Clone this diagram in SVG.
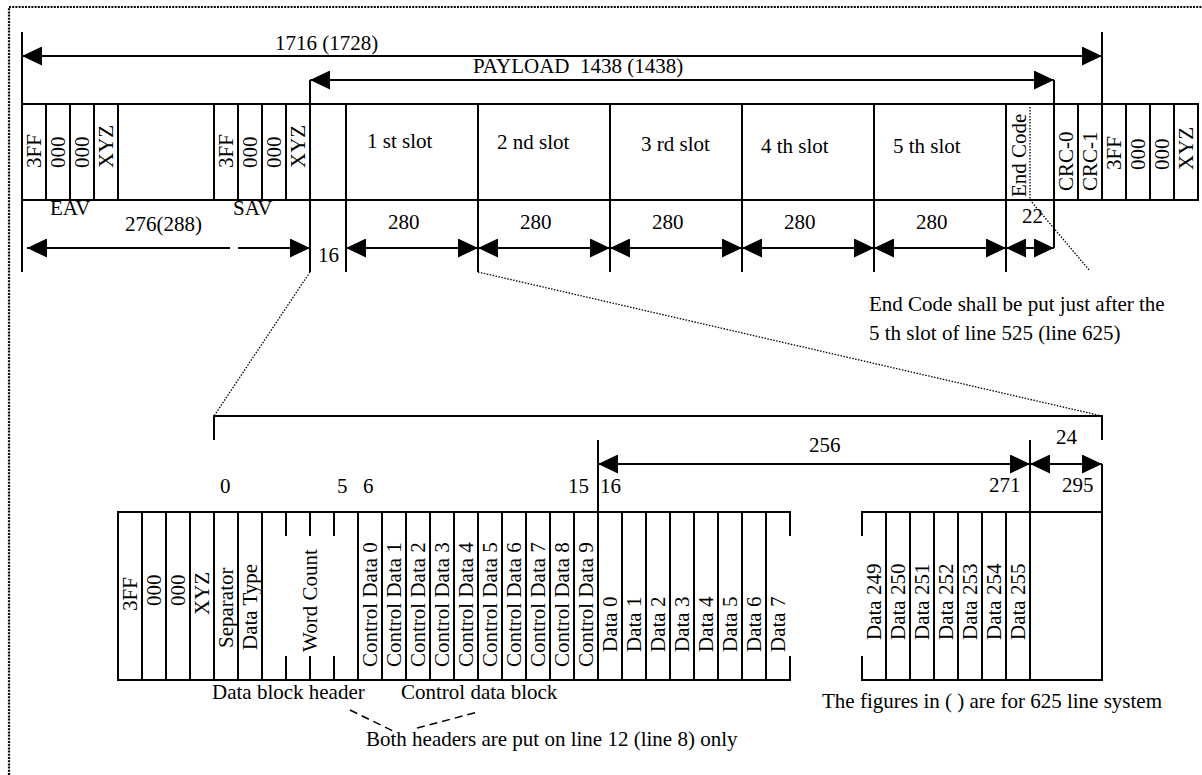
<svg xmlns="http://www.w3.org/2000/svg" width="1202" height="775" viewBox="0 0 1202 775">
<style>
.ln{stroke:#000;stroke-width:2;fill:none}
.t{font-family:"Liberation Serif","Times New Roman",serif;font-size:21px;fill:#000}
.dot{stroke:#000;stroke-width:1.3;stroke-dasharray:1.5 1.5;fill:none}
.frame{stroke:#000;stroke-width:2.2;stroke-dasharray:2 1.2;fill:none}
.dsh{stroke:#000;stroke-width:1.5;stroke-dasharray:8 5;fill:none}
.dim{stroke:#000;stroke-width:2;fill:none;marker-start:url(#ah);marker-end:url(#ah)}
</style>
<defs>
<marker id="ah" viewBox="0 0 20 19" refX="20" refY="9.5" markerWidth="20" markerHeight="19" markerUnits="userSpaceOnUse" orient="auto-start-reverse"><path d="M0,0 L20,9.5 L0,19 z" fill="#000"/></marker>
</defs>
<rect width="1202" height="775" fill="#fff"/>
<path class="frame" d="M9,775 V7 H1202"/>

<!-- top table -->
<g id="top-table">
<g id="eav-3ff"><rect class="ln" x="22" y="104" width="24" height="96"/><text class="t" transform="translate(41,168) rotate(-90)">3FF</text></g>
<g id="eav-000a"><rect class="ln" x="46" y="104" width="24" height="96"/><text class="t" transform="translate(65,168) rotate(-90)">000</text></g>
<g id="eav-000b"><rect class="ln" x="70" y="104" width="24" height="96"/><text class="t" transform="translate(89,168) rotate(-90)">000</text></g>
<g id="eav-xyz"><rect class="ln" x="94" y="104" width="24" height="96"/><text class="t" transform="translate(113,168) rotate(-90)">XYZ</text></g>
<g id="hblank"><rect class="ln" x="118" y="104" width="96" height="96"/></g>
<g id="sav-3ff"><rect class="ln" x="214" y="104" width="24" height="96"/><text class="t" transform="translate(233,168) rotate(-90)">3FF</text></g>
<g id="sav-000a"><rect class="ln" x="238" y="104" width="24" height="96"/><text class="t" transform="translate(257,168) rotate(-90)">000</text></g>
<g id="sav-000b"><rect class="ln" x="262" y="104" width="24" height="96"/><text class="t" transform="translate(281,168) rotate(-90)">000</text></g>
<g id="sav-xyz"><rect class="ln" x="286" y="104" width="24" height="96"/><text class="t" transform="translate(305,168) rotate(-90)">XYZ</text></g>
<g id="hdr16"><rect class="ln" x="310" y="104" width="36" height="96"/></g>
<g id="slot1"><rect class="ln" x="346" y="104" width="132" height="96"/><text class="t" x="367" y="148">1 st slot</text></g>
<g id="slot2"><rect class="ln" x="478" y="104" width="132" height="96"/><text class="t" x="497" y="149">2 nd slot</text></g>
<g id="slot3"><rect class="ln" x="610" y="104" width="132" height="96"/><text class="t" x="641" y="151">3 rd slot</text></g>
<g id="slot4"><rect class="ln" x="742" y="104" width="132" height="96"/><text class="t" x="761" y="153">4 th slot</text></g>
<g id="slot5"><rect class="ln" x="874" y="104" width="132" height="96"/><text class="t" x="893" y="153">5 th slot</text></g>
<g id="endcode"><rect class="ln" x="1006" y="104" width="48" height="96"/><line class="dot" x1="1030" y1="107" x2="1030" y2="200"/><text class="t" transform="translate(1026,197) rotate(-90)">End Code</text></g>
<g id="crc0"><rect class="ln" x="1054" y="104" width="24" height="96"/><text class="t" transform="translate(1073,191) rotate(-90)">CRC-0</text></g>
<g id="crc1"><rect class="ln" x="1078" y="104" width="24" height="96"/><text class="t" transform="translate(1097,191) rotate(-90)">CRC-1</text></g>
<g id="eav2-3ff"><rect class="ln" x="1102" y="104" width="24" height="96"/><text class="t" transform="translate(1121,170) rotate(-90)">3FF</text></g>
<g id="eav2-000a"><rect class="ln" x="1126" y="104" width="24" height="96"/><text class="t" transform="translate(1145,170) rotate(-90)">000</text></g>
<g id="eav2-000b"><rect class="ln" x="1150" y="104" width="24" height="96"/><text class="t" transform="translate(1169,170) rotate(-90)">000</text></g>
<g id="eav2-xyz"><rect class="ln" x="1174" y="104" width="24" height="96"/><text class="t" transform="translate(1193,170) rotate(-90)">XYZ</text></g>
</g>

<!-- top extension lines -->
<g id="top-ext">
<path class="ln" d="M22,32 V272 M1102,32 V104 M310,80 V272 M346,200 V272 M478,200 V272 M610,200 V272 M742,200 V272 M874,200 V272 M1006,200 V272 M1054,80 V248"/>
</g>

<!-- top labels -->
<g id="top-labels">
<text class="t" x="275" y="50">1716 (1728)</text>
<text class="t" x="473" y="73" xml:space="preserve">PAYLOAD  1438 (1438)</text>
<text class="t" x="50" y="215">EAV</text>
<text class="t" x="233" y="215">SAV</text>
<text class="t" x="125" y="231">276(288)</text>
<text class="t" x="318" y="262">16</text>
<text class="t" x="388" y="229">280</text>
<text class="t" x="520" y="229">280</text>
<text class="t" x="652" y="229">280</text>
<text class="t" x="784" y="229">280</text>
<text class="t" x="916" y="229">280</text>
<text class="t" x="1022" y="223">22</text>
<text class="t" x="869" y="311">End Code shall be put just after the</text>
<text class="t" x="869" y="340">5 th slot of line 525 (line 625)</text>
</g>

<!-- lower table -->
<g id="lower-table">
<g id="l-3ff"><rect class="ln" x="118" y="512" width="24" height="168"/><text class="t" transform="translate(137,611) rotate(-90)">3FF</text></g>
<g id="l-000a"><rect class="ln" x="142" y="512" width="24" height="168"/><text class="t" transform="translate(161,606) rotate(-90)">000</text></g>
<g id="l-000b"><rect class="ln" x="166" y="512" width="24" height="168"/><text class="t" transform="translate(185,606) rotate(-90)">000</text></g>
<g id="l-xyz"><rect class="ln" x="190" y="512" width="24" height="168"/><text class="t" transform="translate(209,615) rotate(-90)">XYZ</text></g>
<g id="l-sep"><rect class="ln" x="214" y="512" width="24" height="168"/><text class="t" transform="translate(233,648) rotate(-90)">Separator</text></g>
<g id="l-type"><rect class="ln" x="238" y="512" width="24" height="168"/><text class="t" transform="translate(257,650) rotate(-90)">Data Type</text></g>
<g id="l-wc"><rect class="ln" x="262" y="512" width="96" height="168"/><path class="ln" d="M286,512 V536 M310,512 V536 M334,512 V536 M286,656 V680 M310,656 V680 M334,656 V680"/><text class="t" transform="translate(317,652) rotate(-90)">Word Count</text></g>
<g id="l-cd0"><rect class="ln" x="358" y="512" width="24" height="168"/><text class="t" transform="translate(377,667) rotate(-90)">Control Data 0</text></g>
<g id="l-cd1"><rect class="ln" x="382" y="512" width="24" height="168"/><text class="t" transform="translate(401,667) rotate(-90)">Control Data 1</text></g>
<g id="l-cd2"><rect class="ln" x="406" y="512" width="24" height="168"/><text class="t" transform="translate(425,667) rotate(-90)">Control Data 2</text></g>
<g id="l-cd3"><rect class="ln" x="430" y="512" width="24" height="168"/><text class="t" transform="translate(449,667) rotate(-90)">Control Data 3</text></g>
<g id="l-cd4"><rect class="ln" x="454" y="512" width="24" height="168"/><text class="t" transform="translate(473,667) rotate(-90)">Control Data 4</text></g>
<g id="l-cd5"><rect class="ln" x="478" y="512" width="24" height="168"/><text class="t" transform="translate(497,667) rotate(-90)">Control Data 5</text></g>
<g id="l-cd6"><rect class="ln" x="502" y="512" width="24" height="168"/><text class="t" transform="translate(521,667) rotate(-90)">Control Data 6</text></g>
<g id="l-cd7"><rect class="ln" x="526" y="512" width="24" height="168"/><text class="t" transform="translate(545,667) rotate(-90)">Control Data 7</text></g>
<g id="l-cd8"><rect class="ln" x="550" y="512" width="24" height="168"/><text class="t" transform="translate(569,667) rotate(-90)">Control Data 8</text></g>
<g id="l-cd9"><rect class="ln" x="574" y="512" width="24" height="168"/><text class="t" transform="translate(593,667) rotate(-90)">Control Data 9</text></g>
<g id="l-d0"><rect class="ln" x="598" y="512" width="24" height="168"/><text class="t" transform="translate(617,652) rotate(-90)">Data 0</text></g>
<g id="l-d1"><rect class="ln" x="622" y="512" width="24" height="168"/><text class="t" transform="translate(641,652) rotate(-90)">Data 1</text></g>
<g id="l-d2"><rect class="ln" x="646" y="512" width="24" height="168"/><text class="t" transform="translate(665,652) rotate(-90)">Data 2</text></g>
<g id="l-d3"><rect class="ln" x="670" y="512" width="24" height="168"/><text class="t" transform="translate(689,652) rotate(-90)">Data 3</text></g>
<g id="l-d4"><rect class="ln" x="694" y="512" width="24" height="168"/><text class="t" transform="translate(713,652) rotate(-90)">Data 4</text></g>
<g id="l-d5"><rect class="ln" x="718" y="512" width="24" height="168"/><text class="t" transform="translate(737,652) rotate(-90)">Data 5</text></g>
<g id="l-d6"><rect class="ln" x="742" y="512" width="24" height="168"/><text class="t" transform="translate(761,652) rotate(-90)">Data 6</text></g>
<g id="l-d7"><path class="ln" d="M766,512 H790 V536 M766,680 H790 V656"/><text class="t" transform="translate(785,652) rotate(-90)">Data 7</text></g>
<g id="l-d249"><path class="ln" d="M886,512 H862 V536 M886,680 H862 V656"/><text class="t" transform="translate(881,640) rotate(-90)">Data 249</text></g>
<g id="l-d250"><rect class="ln" x="886" y="512" width="24" height="168"/><text class="t" transform="translate(905,640) rotate(-90)">Data 250</text></g>
<g id="l-d251"><rect class="ln" x="910" y="512" width="24" height="168"/><text class="t" transform="translate(929,640) rotate(-90)">Data 251</text></g>
<g id="l-d252"><rect class="ln" x="934" y="512" width="24" height="168"/><text class="t" transform="translate(953,640) rotate(-90)">Data 252</text></g>
<g id="l-d253"><rect class="ln" x="958" y="512" width="24" height="168"/><text class="t" transform="translate(977,640) rotate(-90)">Data 253</text></g>
<g id="l-d254"><rect class="ln" x="982" y="512" width="24" height="168"/><text class="t" transform="translate(1001,640) rotate(-90)">Data 254</text></g>
<g id="l-d255"><rect class="ln" x="1006" y="512" width="24" height="168"/><text class="t" transform="translate(1025,640) rotate(-90)">Data 255</text></g>
<g id="l-crc"><rect class="ln" x="1030" y="512" width="72" height="168"/></g>
</g>

<!-- lower extension lines and labels -->
<g id="lower-ext">
<path class="ln" d="M214,440 V416 H1102 V440 M598,440 V512 M1030,440 V512 M1102,464 V512"/>
<text class="t" x="220" y="493">0</text>
<text class="t" x="337" y="493">5</text>
<text class="t" x="363" y="493">6</text>
<text class="t" x="568" y="493">15</text>
<text class="t" x="600" y="493">16</text>
<text class="t" x="809" y="452">256</text>
<text class="t" x="1056" y="444">24</text>
<text class="t" x="989" y="492">271</text>
<text class="t" x="1062" y="492">295</text>
<text class="t" x="212" y="699">Data block header</text>
<text class="t" x="401" y="699">Control data block</text>
<text class="t" x="366" y="746">Both headers are put on line 12 (line 8) only</text>
<text class="t" x="822" y="708">The figures in ( ) are for 625 line system</text>
</g>

<!-- connectors -->
<g id="connectors">
<path class="dim" d="M22,56 H1102"/>
<path class="dim" d="M310,80 H1054"/>
<path class="ln" d="M27,248 H230" marker-start="url(#ah)"/>
<path class="ln" d="M238,248 H310" marker-end="url(#ah)"/>
<path class="dim" d="M346,248 H478"/>
<path class="dim" d="M478,248 H610"/>
<path class="dim" d="M610,248 H742"/>
<path class="dim" d="M742,248 H874"/>
<path class="dim" d="M874,248 H1006"/>
<path class="dim" d="M1006,248 H1054"/>
<path class="dim" d="M598,464 H1030"/>
<path class="dim" d="M1030,464 H1102"/>
<path class="dot" d="M310,272 L214,416"/>
<path class="dot" d="M478,272 L1102,416"/>
<path class="dot" d="M1030,200 L1090,271"/>
<path class="dsh" d="M350,710 L395,732"/>
<path class="dsh" d="M417,728 L478,712"/>
</g>
</svg>
